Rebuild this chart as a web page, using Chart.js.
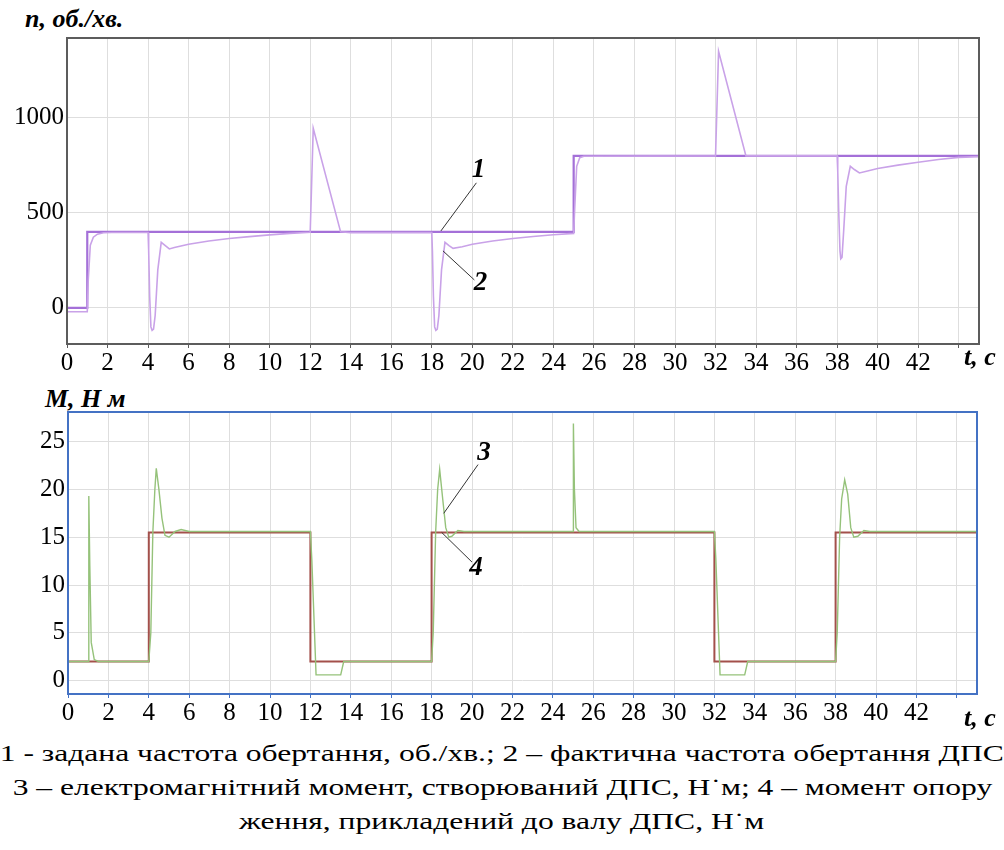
<!DOCTYPE html>
<html>
<head>
<meta charset="utf-8">
<script src="https://cdn.jsdelivr.net/npm/chart.js@4.4.1/dist/chart.umd.min.js"></script>
<style>
  body { margin: 0; width: 1004px; height: 850px; background: #fff; overflow: hidden; position: relative; font-family: "Liberation Serif", "Times New Roman", serif; }
  .box { position: absolute; left: 0; width: 1004px; }
  .ttl { position: absolute; font-weight: bold; font-style: italic; font-size: 26px; line-height: 28px; white-space: nowrap; color: #000; }
  .cap { position: absolute; left: 0; width: 1004px; text-align: center; white-space: nowrap; font-size: 24px; line-height: 30px; color: #000; }
  .cap span { display: inline-block; transform-origin: center; }
</style>
</head>
<body>
<div class="ttl" style="left:25px;top:5px">n, об./хв.</div>
<div class="box" style="top:0;height:372px"><canvas id="speedChart"></canvas></div>
<div class="ttl" style="left:964px;top:343px">t, c</div>

<div class="ttl" style="left:45px;top:385px">M, Н м</div>
<div class="box" style="top:380px;height:350px"><canvas id="torqueChart"></canvas></div>
<div class="ttl" style="left:964px;top:704px">t, c</div>

<div class="cap" style="top:738px"><span>1 - задана частота обертання, об./хв.; 2 – фактична частота обертання ДПС</span></div>
<div class="cap" style="top:772px"><span>3 – електромагнітний момент, створюваний ДПС, Н˙м; 4 – момент опору</span></div>
<div class="cap" style="top:806px"><span id="capLast">ження, прикладений до валу ДПС, Н˙м</span></div>

<script>
// --- données ---
const xTicks = [0, 2, 4, 6, 8, 10, 12, 14, 16, 18, 20, 22, 24, 26, 28, 30, 32, 34, 36, 38, 40, 42, 44];
const xTickLabels = ['0', '2', '4', '6', '8', '10', '12', '14', '16', '18', '20', '22', '24', '26', '28', '30', '32', '34', '36', '38', '40', '42', ''];
const nTicks = [0, 500, 1000];
const mTicks = [0, 5, 10, 15, 20, 25];

// 1 - задана частота
const tSet = [0, 1, 1, 25, 25, 45];
const nSet = [0, 0, 400, 400, 800, 800];

// 2 - фактична частота
const tReal = [0, 1, 1.05, 1.15, 1.3, 1.5, 1.8, 2.2, 4.0, 4.03, 4.08, 4.14, 4.2, 4.27, 4.35, 4.48, 4.65, 4.85, 5.05, 5.3, 6, 7, 8, 9, 10, 11, 12,
  12.15, 13.5, 14, 16, 18, 18.03, 18.08, 18.14, 18.2, 18.27, 18.35, 18.48, 18.65, 18.85, 19.05, 19.5, 20, 21, 22, 23, 24, 25,
  25.05, 25.15, 25.3, 25.5, 32, 32.15, 33.5, 38, 38.03, 38.08, 38.14, 38.18, 38.24, 38.32, 38.45, 38.65, 38.85, 39.1, 39.5, 40, 41, 42, 43, 44, 45];
const nReal = [-20, -20, 150, 330, 372, 388, 395, 397, 397, 300, 60, -100, -118, -112, -40, 200, 345, 328, 310, 318, 335, 352, 365, 375, 384, 392, 398,
  945, 400, 396, 396, 396, 300, 60, -100, -118, -112, -40, 200, 345, 328, 313, 322, 335, 352, 365, 376, 385, 392,
  520, 745, 790, 798, 800, 1350, 800, 800, 720, 500, 300, 258, 265, 400, 640, 745, 728, 710, 720, 733, 751, 766, 781, 792, 796];

// 3 - електромагнітний момент
const tEm = [0, 1.0, 1.03, 1.08, 1.15, 1.3, 1.5, 4.0, 4.1, 4.2, 4.3, 4.37, 4.5, 4.65, 4.8, 5.0, 5.3, 5.6, 6, 8, 12,
  12.07, 12.28, 13.5, 13.65, 18, 18.08, 18.2, 18.3, 18.4, 18.55, 18.7, 18.85, 19.0, 19.3, 19.6, 22, 25,
  25.02, 25.07, 25.15, 25.3, 25.5, 32, 32.07, 32.28, 33.5, 33.65, 38, 38.08, 38.2, 38.3, 38.45, 38.6, 38.75, 38.9, 39.1, 39.4, 39.7, 45];
const mEm = [2, 2, 19.3, 12, 4, 2.2, 2, 2, 5, 15.5, 20, 22.2, 20, 17, 15.2, 15, 15.6, 15.8, 15.6, 15.6, 15.6,
  12.7, 0.6, 0.6, 2, 2, 5, 15.5, 20, 22.1, 19, 16, 15, 15.1, 15.7, 15.6, 15.6, 15.6,
  26.9, 20, 16, 15.6, 15.6, 15.6, 12.8, 0.6, 0.6, 2, 2, 5, 15, 19, 21, 19.5, 16, 15, 15.1, 15.7, 15.6, 15.6];

// 4 - момент опору
const tLoad = [0, 4, 4, 12, 12, 18, 18, 32, 32, 38, 38, 45];
const mLoad = [2, 2, 15.5, 15.5, 2, 2, 15.5, 15.5, 2, 2, 15.5, 15.5];

// --- repères numérotés (coordonnées dans l'espace des données) ---
const speedCallouts = [
  { text: '1', at: [20.3, 726], from: [18.45, 405], to: [20.2, 658] },
  { text: '2', at: [20.4, 132], from: [18.55, 300], to: [20.1, 147] }
];
const torqueCallouts = [
  { text: '3', at: [20.6, 23.8], from: [18.6, 17.5], to: [20.3, 22.6] },
  { text: '4', at: [20.2, 11.8], from: [18.5, 15.5], to: [20.0, 12.4] }
];

const SERIF = '"Liberation Serif", "Times New Roman", serif';
const pts = (xs, ys) => xs.map((x, i) => ({ x: x, y: ys[i] }));
const tickFont = { family: SERIF, size: 25 };

const framePlugin = {
  id: 'frame',
  afterDraw(chart, args, opts) {
    const { ctx, chartArea: a } = chart;
    ctx.save();
    ctx.strokeStyle = opts.color;
    ctx.lineWidth = opts.width;
    ctx.strokeRect(a.left, a.top, a.right - a.left, a.bottom - a.top);
    ctx.restore();
  }
};

const calloutPlugin = {
  id: 'callouts',
  afterDatasetsDraw(chart, args, opts) {
    const { ctx, scales } = chart;
    const x = scales.x, y = scales.y;
    ctx.save();
    ctx.strokeStyle = '#333';
    ctx.lineWidth = 1;
    ctx.fillStyle = '#000';
    ctx.font = 'italic bold 27px ' + SERIF;
    ctx.textAlign = 'center';
    ctx.textBaseline = 'middle';
    opts.items.forEach(c => {
      ctx.beginPath();
      ctx.moveTo(x.getPixelForValue(c.from[0]), y.getPixelForValue(c.from[1]));
      ctx.lineTo(x.getPixelForValue(c.to[0]), y.getPixelForValue(c.to[1]));
      ctx.stroke();
      ctx.fillText(c.text, x.getPixelForValue(c.at[0]), y.getPixelForValue(c.at[1]));
    });
    ctx.restore();
  }
};

function makeChart(id, cfg) {
  return new Chart(document.getElementById(id), {
    type: 'line',
    data: { datasets: cfg.datasets },
    options: {
      responsive: true,
      maintainAspectRatio: false,
      animation: false,
      parsing: false,
      layout: { padding: { top: cfg.padTop, right: cfg.padRight, left: 0, bottom: 0 } },
      elements: { point: { radius: 0 }, line: { tension: 0 } },
      plugins: {
        legend: { display: false },
        tooltip: { enabled: false },
        frame: { color: cfg.frameColor, width: 2 },
        callouts: { items: cfg.callouts }
      },
      scales: {
        x: {
          type: 'linear', min: 0, max: 45,
          afterBuildTicks: s => { s.ticks = xTicks.map(v => ({ value: v })); },
          afterFit: s => { s.height = cfg.xHeight; },
          grid: { color: '#dedede', tickLength: 4, tickColor: cfg.frameColor },
          border: { display: false },
          ticks: { color: '#000', font: tickFont, padding: 0, maxRotation: 0, autoSkip: false,
                   callback: (v, i) => xTickLabels[i] }
        },
        y: {
          min: cfg.yMin, max: cfg.yMax,
          afterBuildTicks: s => { s.ticks = cfg.yTicks.map(v => ({ value: v })); },
          afterFit: s => { s.width = cfg.yWidth; },
          grid: { color: '#dedede', drawTicks: false },
          border: { display: false },
          ticks: { color: '#000', font: tickFont, padding: 3, callback: v => String(v) }
        }
      }
    },
    plugins: [framePlugin, calloutPlugin]
  });
}

makeChart('speedChart', {
  padTop: 38, padRight: 25, xHeight: 28, yWidth: 67,
  yMin: -190, yMax: 1420, yTicks: nTicks, frameColor: '#5c5c5c',
  callouts: speedCallouts,
  datasets: [
    { label: '2', data: pts(tReal, nReal), borderColor: '#c9a2e8', borderWidth: 1.6 },
    { label: '1', data: pts(tSet, nSet), borderColor: '#a470d8', borderWidth: 2.2 }
  ]
});

makeChart('torqueChart', {
  padTop: 32, padRight: 27, xHeight: 36, yWidth: 68,
  yMin: -1.4, yMax: 28.1, yTicks: mTicks, frameColor: '#4472c4',
  callouts: torqueCallouts,
  datasets: [
    { label: '3', data: pts(tEm, mEm), borderColor: '#95c27a', borderWidth: 1.4 },
    { label: '4', data: pts(tLoad, mLoad), borderColor: '#a3504b', borderWidth: 2 }
  ]
});

// étirement horizontal de la légende (le texte d'origine est plus large que la police)
const last = document.getElementById('capLast');
const k = 525 / last.getBoundingClientRect().width;
document.querySelectorAll('.cap span').forEach(s => { s.style.transform = 'scaleX(' + k.toFixed(3) + ')'; });
</script>
</body>
</html>
